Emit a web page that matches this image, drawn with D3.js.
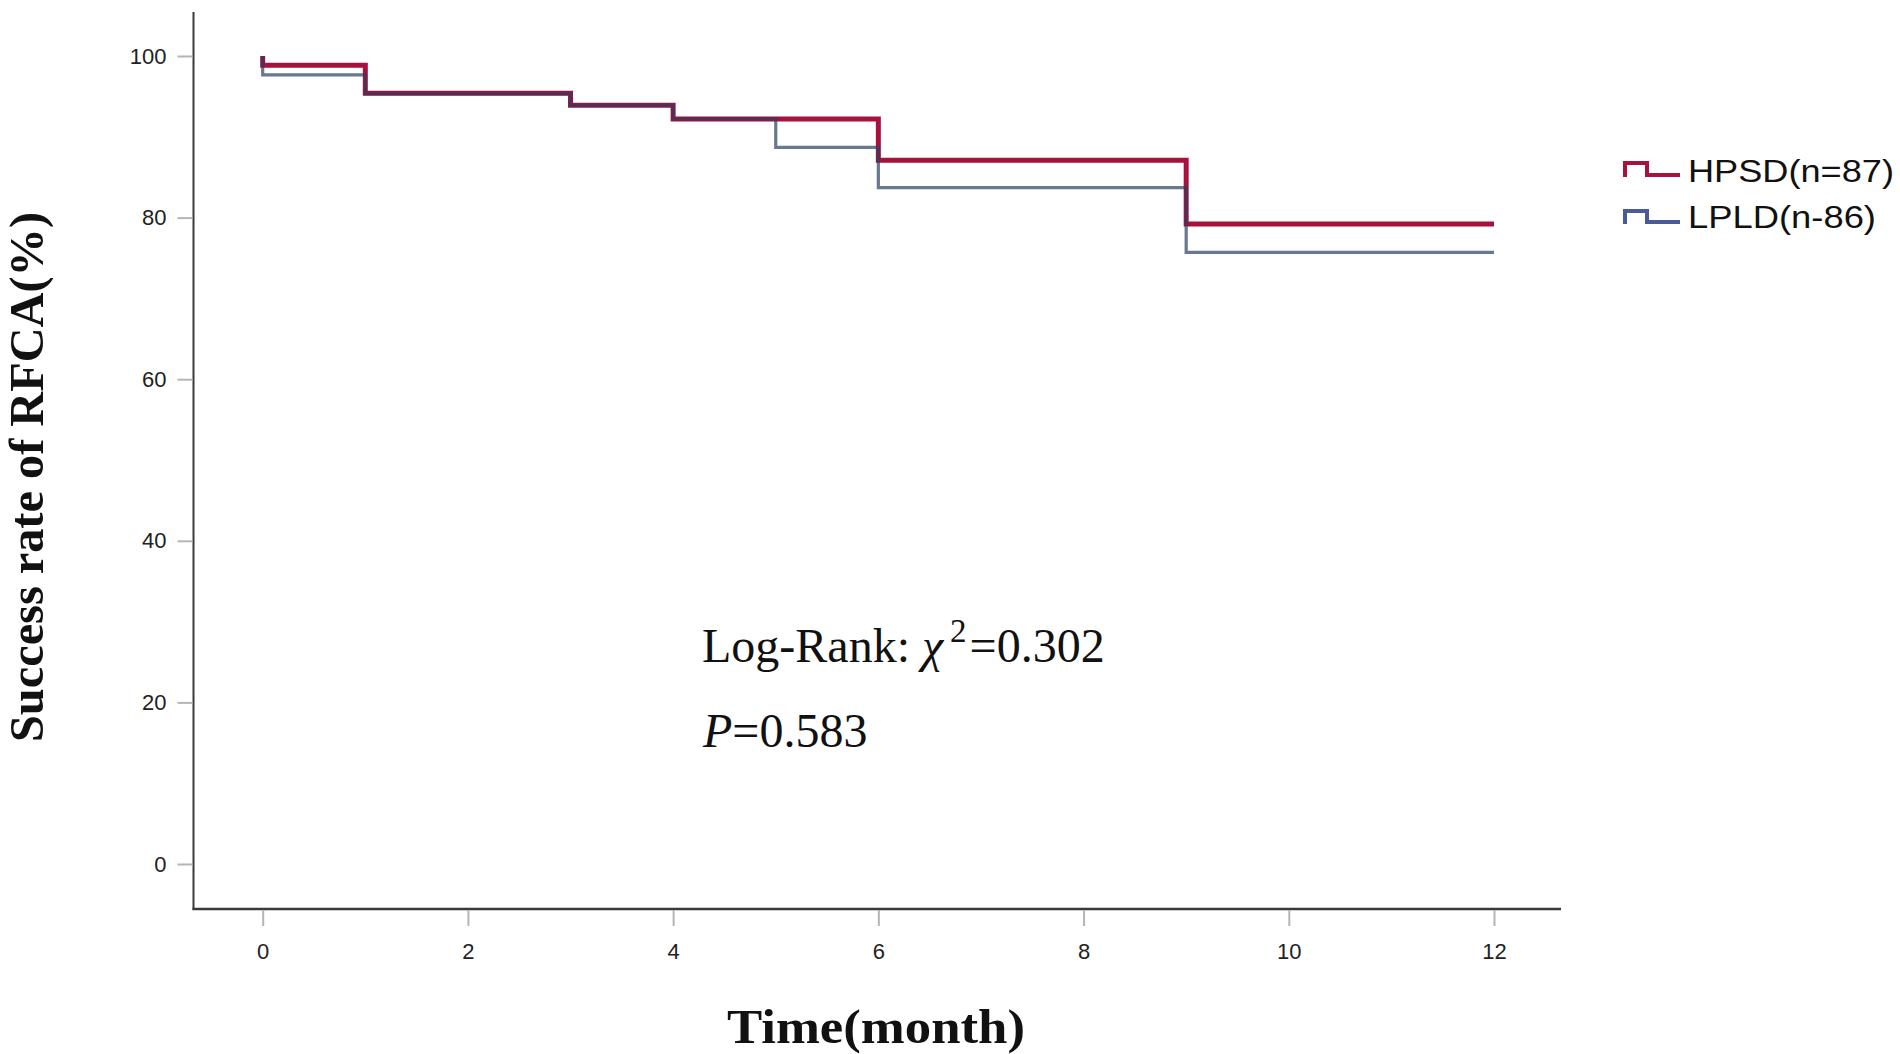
<!DOCTYPE html>
<html>
<head>
<meta charset="utf-8">
<script src="https://cdn.jsdelivr.net/npm/d3@7"></script>
<style>
  html, body { margin: 0; padding: 0; background: #fff; }
  svg { display: block; }
</style>
</head>
<body>
<svg id="chart" width="1900" height="1054"></svg>
<script>
// ---- data ----
const xTicks = [0, 2, 4, 6, 8, 10, 12];
const yTicks = [0, 20, 40, 60, 80, 100];

const hpsdTime = [0, 0, 1, 3, 4, 6, 9, 12];
const hpsdRate = [100, 98.85, 95.4, 93.9, 92.2, 87.1, 79.2, 79.2];

const lpldTime = [0, 0, 1, 3, 4, 5, 6, 9, 12];
const lpldRate = [100, 97.67, 95.35, 93.9, 92.2, 88.7, 83.7, 75.7, 75.7];

const seriesNames = ["HPSD(n=87)", "LPLD(n-86)"];
const statLine1 = { pre: "Log-Rank: ", sym: "χ", sup: "2", post: "=0.302" };
const statLine2 = { sym: "P", post: "=0.583" };
const xTitle = "Time(month)";
const yTitle = "Success rate of RFCA(%)";

// ---- layout ----
const svg = d3.select("#chart");
const x = d3.scaleLinear().domain([0, 12]).range([262.7, 1494]);
const y = d3.scaleLinear().domain([0, 100]).range([864, 56]);
const axisLeftX = 193.5, axisBottomY = 909;

const g = svg.append("g");

// axes lines
g.append("line").attr("x1", axisLeftX).attr("x2", axisLeftX)
  .attr("y1", 12).attr("y2", axisBottomY + 1)
  .attr("stroke", "#3a3a3a").attr("stroke-width", 2);
g.append("line").attr("x1", axisLeftX - 1).attr("x2", 1561)
  .attr("y1", axisBottomY).attr("y2", axisBottomY)
  .attr("stroke", "#3a3a3a").attr("stroke-width", 2.5);

// y axis ticks + labels
const yAxis = d3.axisLeft(y).tickValues(yTicks).tickSize(15).tickPadding(11);
const yg = g.append("g").attr("transform", `translate(${axisLeftX - 1},0)`).call(yAxis);
yg.select(".domain").remove();
yg.selectAll(".tick line").attr("stroke", "#b5b5b5").attr("stroke-width", 2);
yg.selectAll(".tick text").attr("font-family", "Liberation Sans, Arial, sans-serif")
  .attr("font-size", 22).attr("fill", "#222");

// x axis ticks + labels
const xAxis = d3.axisBottom(x).tickValues(xTicks).tickSize(16).tickPadding(17);
const xg = g.append("g").attr("transform", `translate(0,${axisBottomY + 1})`).call(xAxis);
xg.select(".domain").remove();
xg.selectAll(".tick line").attr("stroke", "#b5b5b5").attr("stroke-width", 2);
xg.selectAll(".tick text").attr("font-family", "Liberation Sans, Arial, sans-serif")
  .attr("font-size", 22).attr("fill", "#222");

// curves
const line = d3.line().x(d => x(d[0])).y(d => y(d[1])).curve(d3.curveStepAfter);
const hpsd = hpsdTime.map((t, i) => [t, hpsdRate[i]]);
const lpld = lpldTime.map((t, i) => [t, lpldRate[i]]);

g.append("path").datum(hpsd).attr("d", line)
  .attr("fill", "none").attr("stroke", "#a8113c").attr("stroke-width", 5)
  .attr("stroke-linejoin", "miter").attr("stroke-linecap", "butt");
g.append("path").datum(lpld).attr("d", line)
  .attr("fill", "none").attr("stroke", "#2a3e60").attr("stroke-opacity", 0.7)
  .attr("stroke-width", 3.2).attr("stroke-linejoin", "miter");

// legend
const legend = g.append("g");
const legendItems = [
  { name: seriesNames[0], color: "#a8113c", base: 182, top: 163, bot: 175, len: 206 },
  { name: seriesNames[1], color: "#4a5a98", base: 228, top: 211, bot: 222, len: 188 }
];
legendItems.forEach(it => {
  legend.append("path")
    .attr("d", `M1625,${it.bot + 2} L1625,${it.top} L1647,${it.top} L1647,${it.bot} L1680,${it.bot}`)
    .attr("fill", "none").attr("stroke", it.color).attr("stroke-width", 4);
  legend.append("text").attr("x", 1688).attr("y", it.base)
    .attr("font-family", "Liberation Sans, Arial, sans-serif")
    .attr("font-size", 31).attr("fill", "#111")
    .attr("textLength", it.len)
    .attr("lengthAdjust", "spacingAndGlyphs")
    .text(it.name);
});

// statistics annotation
const t1 = g.append("text").attr("x", 702).attr("y", 662)
  .attr("font-family", "Liberation Serif, Times New Roman, serif")
  .attr("font-size", 48).attr("fill", "#111");
t1.append("tspan").text(statLine1.pre);
t1.append("tspan").attr("font-style", "italic").text(statLine1.sym);
t1.append("tspan").attr("font-size", 33).attr("dy", -20).attr("dx", 7).text(statLine1.sup);
t1.append("tspan").attr("dy", 20).attr("dx", 3).text(statLine1.post);

const t2 = g.append("text").attr("x", 703).attr("y", 747)
  .attr("font-family", "Liberation Serif, Times New Roman, serif")
  .attr("font-size", 48).attr("fill", "#111");
t2.append("tspan").attr("font-style", "italic").text(statLine2.sym);
t2.append("tspan").text(statLine2.post);

// axis titles
g.append("text").attr("x", 876).attr("y", 1043)
  .attr("text-anchor", "middle")
  .attr("font-family", "Liberation Serif, Times New Roman, serif")
  .attr("font-weight", "bold").attr("font-size", 48).attr("fill", "#111")
  .attr("textLength", 298).attr("lengthAdjust", "spacingAndGlyphs")
  .text(xTitle);

g.append("text")
  .attr("transform", "translate(43,477) rotate(-90)")
  .attr("text-anchor", "middle")
  .attr("font-family", "Liberation Serif, Times New Roman, serif")
  .attr("font-weight", "bold").attr("font-size", 48).attr("fill", "#111")
  .attr("textLength", 530).attr("lengthAdjust", "spacingAndGlyphs")
  .text(yTitle);
</script>
</body>
</html>
